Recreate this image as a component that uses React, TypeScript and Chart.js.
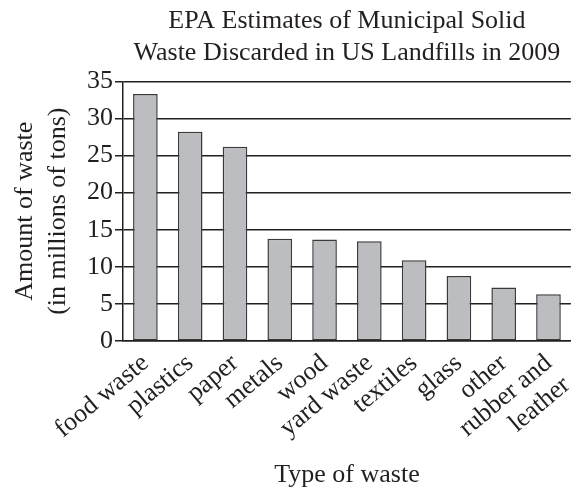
import React, { useEffect, useRef } from "react";
import { Chart, registerables } from "chart.js";

Chart.register(...registerables);

const categories: (string | string[])[] = [
  "food waste",
  "plastics",
  "paper",
  "metals",
  "wood",
  "yard waste",
  "textiles",
  "glass",
  "other",
  ["rubber and", "leather"],
];
const wasteValues = [33.3, 28.2, 26.2, 13.8, 13.7, 13.45, 10.9, 8.75, 7.2, 6.3];
const yTicks = [0, 5, 10, 15, 20, 25, 30, 35];
const titleLines = ["EPA Estimates of Municipal Solid", "Waste Discarded in US Landfills in 2009"];
const yTitleLines = ["Amount of waste", "(in millions of tons)"];
const xTitle = "Type of waste";

const FONT = "'Liberation Serif', 'DejaVu Serif', serif";
const INK = "#231f20";
const SIZE = 26;

export default function App() {
  const ref = useRef<HTMLCanvasElement | null>(null);
  useEffect(() => {
    if (!ref.current) return;
    const chart = new Chart(ref.current, {
      type: "bar",
      data: {
        labels: categories,
        datasets: [
          {
            data: wasteValues,
            backgroundColor: "#bcbdc0",
            borderColor: "#3a3a3a",
            borderWidth: 1.5,
            borderSkipped: false,
            categoryPercentage: 1,
            barPercentage: 0.55,
          },
        ],
      },
      options: {
        animation: false,
        responsive: false,
        layout: { padding: { left: 0, right: 9, top: 0, bottom: 0 } },
        plugins: {
          legend: { display: false },
          tooltip: { enabled: false },
          title: {
            display: true,
            text: titleLines,
            fullSize: false,
            color: INK,
            font: { family: FONT, size: SIZE, weight: "normal", lineHeight: 1.2 },
            padding: { top: 6, bottom: 13 },
          },
        },
        scales: {
          x: {
            grid: { display: false },
            border: { display: true, color: INK, width: 1.5 },
            ticks: {
              color: INK,
              font: { family: FONT, size: SIZE, lineHeight: 1.1 },
              minRotation: 40,
              maxRotation: 40,
              padding: 0,
              autoSkip: false,
            },
            title: {
              display: true,
              text: xTitle,
              color: INK,
              font: { family: FONT, size: SIZE, lineHeight: 1.2 },
              padding: { top: 0, bottom: 5 },
            },
            afterFit: (scale: any) => {
              scale.height = 155;
            },
          },
          y: {
            min: 0,
            max: 35,
            afterBuildTicks: (scale: any) => {
              scale.ticks = yTicks.map((v) => ({ value: v }));
            },
            grid: {
              color: INK,
              lineWidth: 1.5,
              drawTicks: true,
              tickLength: 8,
              tickColor: INK,
            },
            border: { display: true, color: INK, width: 1.5 },
            ticks: {
              color: INK,
              font: { family: FONT, size: SIZE },
              padding: 2,
            },
            title: {
              display: true,
              text: yTitleLines,
              color: INK,
              font: { family: FONT, size: SIZE, lineHeight: 1.27 },
              padding: { top: 9, bottom: 0 },
            },
            afterFit: (scale: any) => {
              scale.width = 123;
            },
          },
        },
      },
    });
    return () => chart.destroy();
  }, []);
  return (
    <div style={{ position: "fixed", left: 0, top: 0, width: 586, height: 496, background: "#fff" }}>
      <canvas ref={ref} width={586} height={496} />
    </div>
  );
}
